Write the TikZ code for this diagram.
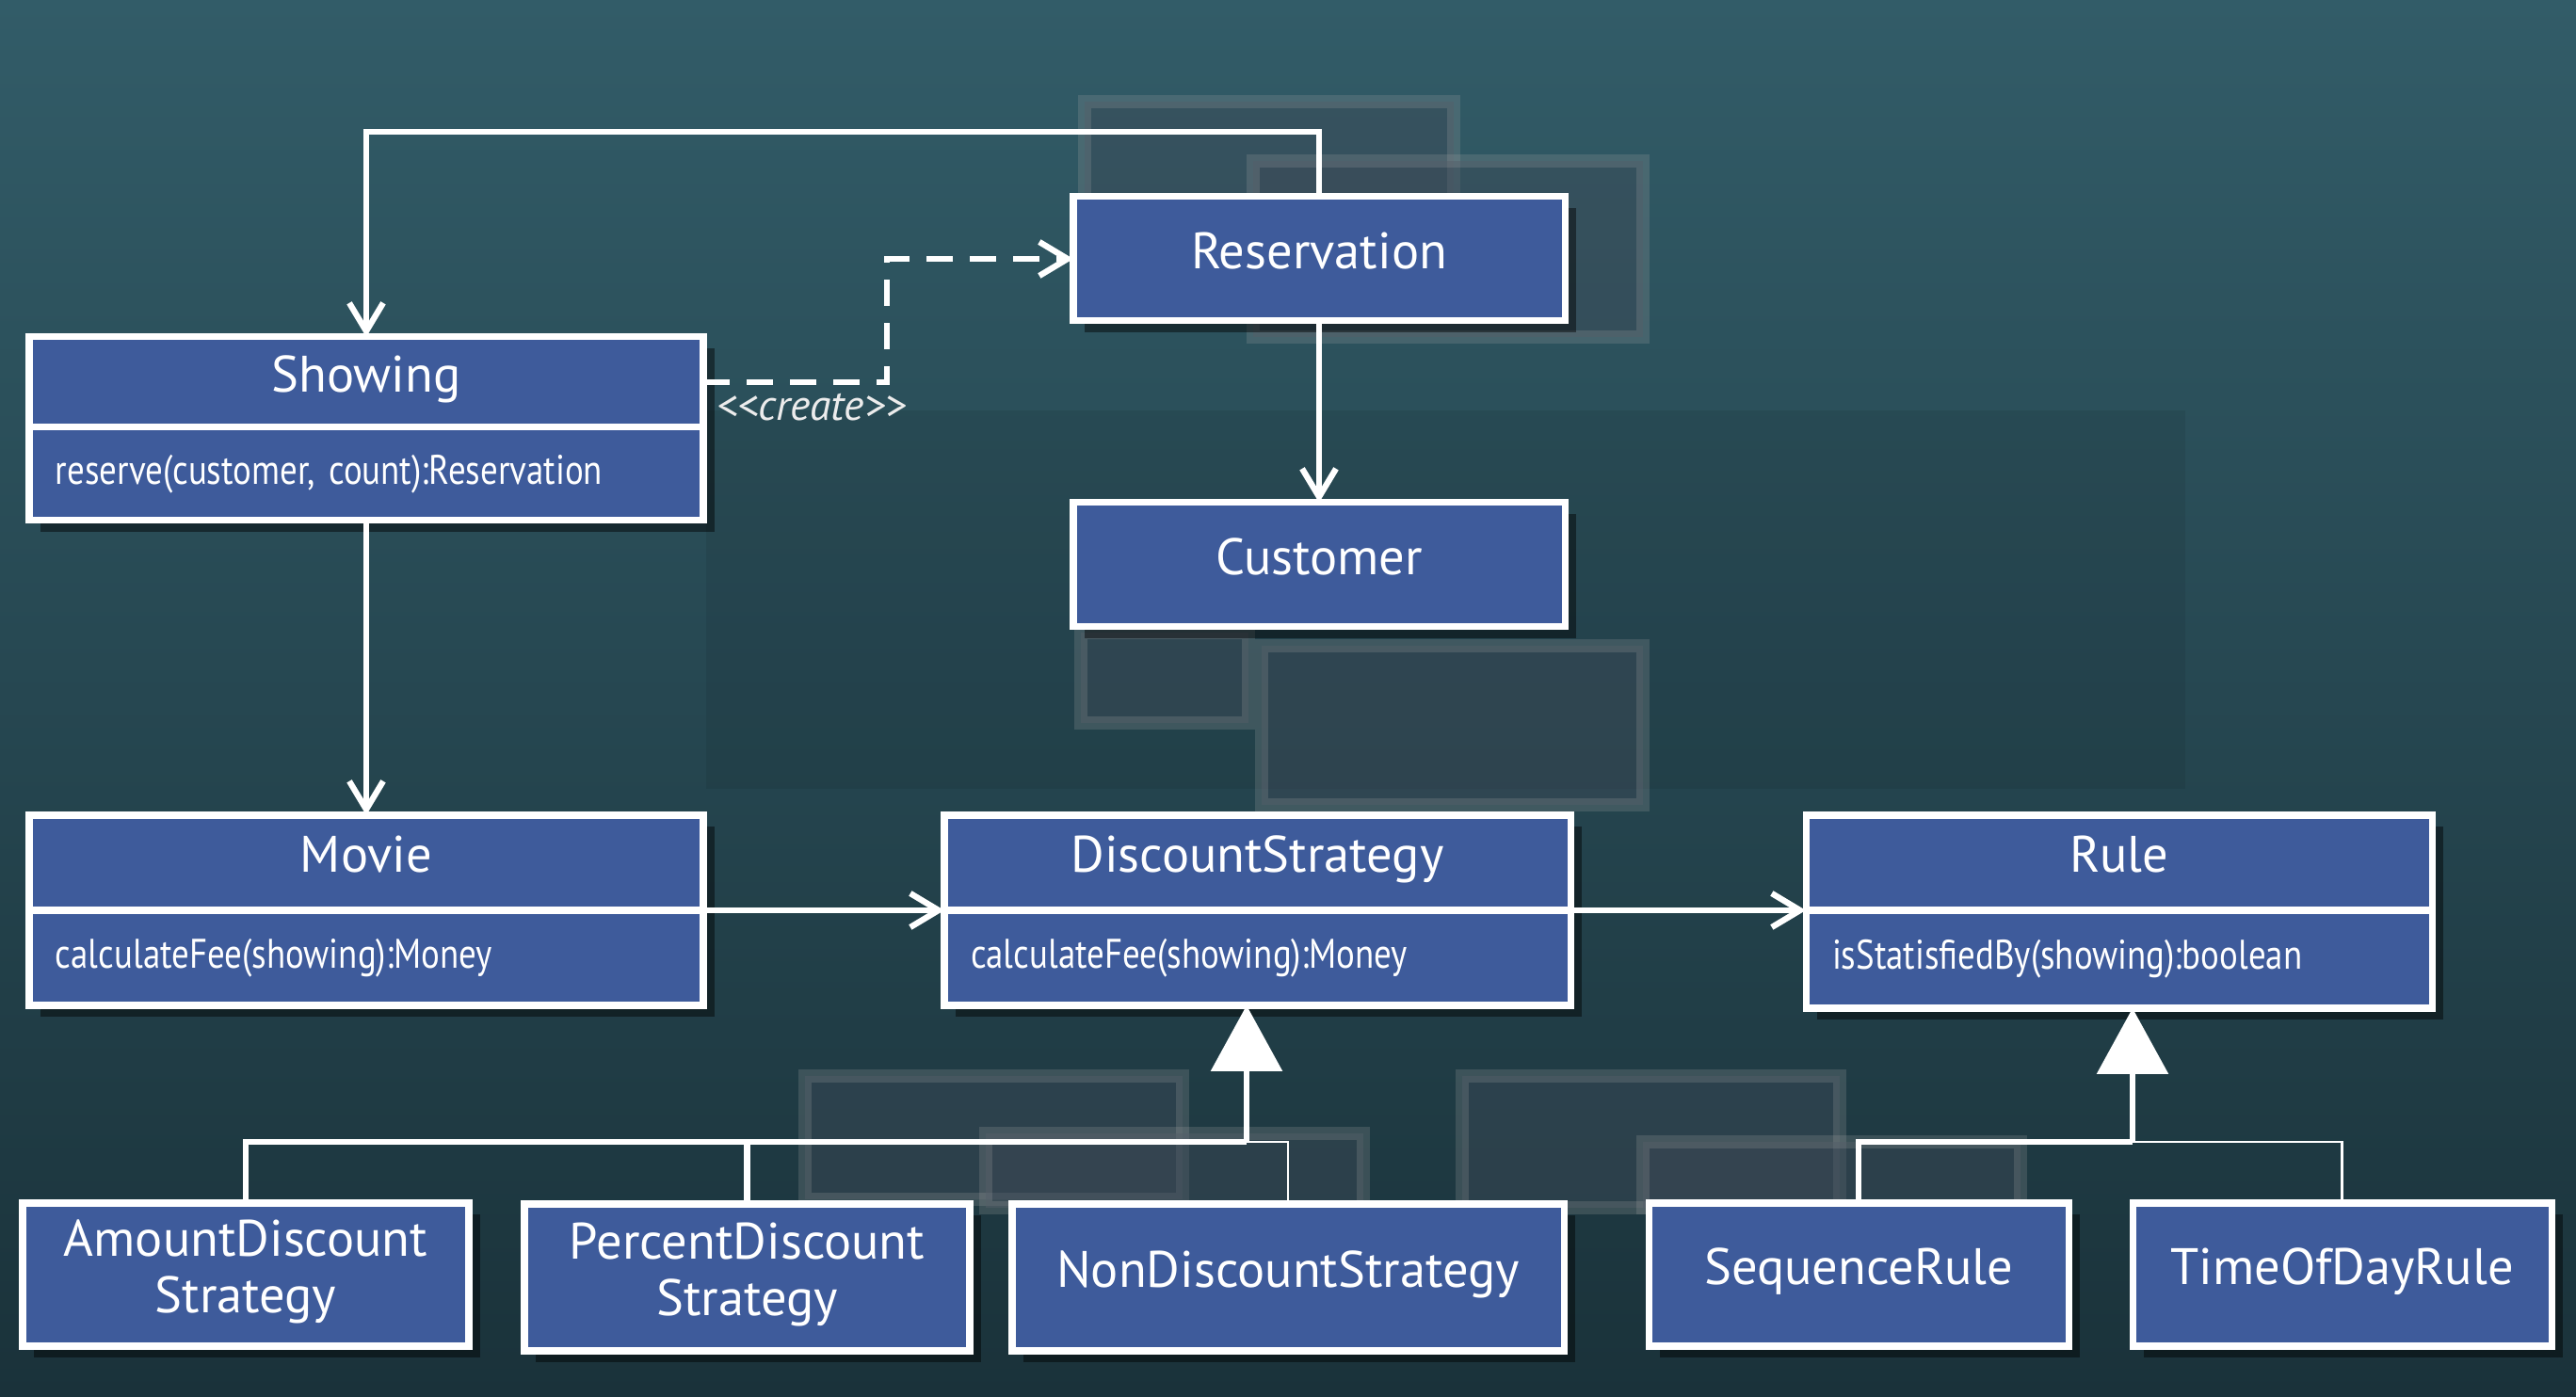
\documentclass[tikz,border=0pt]{standalone}
\usepackage{fontspec}
\setmainfont{PT Sans}
\newfontfamily\methfont[FakeStretch=0.84]{PT Sans}
\usetikzlibrary{arrows.meta, positioning, shadows}

\definecolor{umlblue}{RGB}{62,91,155}
\definecolor{bgtop}{RGB}{50,92,104}
\definecolor{bgbot}{RGB}{26,50,58}
\definecolor{ghost}{RGB}{62,74,88}

\begin{document}
\begin{tikzpicture}[
  cls/.style={draw=white, line width=2pt, fill=umlblue, text=white,
              outer sep=0pt, inner sep=0pt, align=center, text depth=0.18cm,
              font=\fontsize{15.5}{17}\selectfont,
              drop shadow={shadow xshift=1.2mm, shadow yshift=-1.2mm,
                           opacity=0.45, fill=black}},
  meth/.style={cls, inner xsep=0.28cm, align=left, text depth=,
               font=\methfont\fontsize{12.5}{13}\selectfont},
  assoc/.style={draw=white, line width=1.8pt,
                -{Straight Barb[length=0.3cm, width=0.36cm]}},
  dep/.style={assoc, dash pattern=on 0.28cm off 0.18cm},
  inh/.style={draw=white, line width=1.8pt,
              -{Triangle[length=0.7cm, width=0.75cm, fill=white]}},
  bus/.style={draw=white, line width=1.8pt},
  thinbus/.style={draw=white, line width=0.6pt},
  ghostbox/.style={fill=ghost, fill opacity=0.45, draw=gray!70,
                   draw opacity=0.22, line width=4pt},
  lbl/.style={text=white!85!gray, font=\itshape\fontsize{13}{14}\selectfont,
              inner sep=1pt}
]

% backdrop
\shade[top color=bgtop, bottom color=bgbot] (0,0) rectangle (27.36,14.84);
\useasboundingbox (0,0) rectangle (27.36,14.84);
\fill[black, opacity=0.07] (7.50,10.48) rectangle (23.21,6.46);
\draw[ghostbox] (11.52,13.76) rectangle (15.44,11.52);
\draw[ghostbox] (13.31,13.13) rectangle (17.45,11.26);
\draw[ghostbox] (11.48,8.12) rectangle (13.26,7.16);
\draw[ghostbox] (13.40,7.98) rectangle (17.45,6.29);
\draw[ghostbox] (8.55,3.41) rectangle (12.56,2.10);
\draw[ghostbox] (10.47,2.80) rectangle (14.48,2.01);
\draw[ghostbox] (15.53,3.41) rectangle (19.54,2.01);
\draw[ghostbox] (17.45,2.71) rectangle (21.46,2.01);

% presentation classes
\node[cls, minimum width=5.22cm, minimum height=1.32cm] (reservation)
  at (14.01, 12.09) {Reservation};
\node[cls, minimum width=5.22cm, minimum height=1.32cm] (customer)
  at (14.01, 8.84) {Customer};

\node[cls, minimum width=7.16cm, minimum height=0.96cm] (showing)
  at (3.89, 10.78) {Showing};
\node[meth, text width=6.60cm, minimum height=0.99cm, below=0pt of showing]
  (showingm) {reserve(customer, count):Reservation};

% domain classes
\node[cls, minimum width=7.16cm, minimum height=1.01cm] (movie)
  at (3.89, 5.675) {Movie};
\node[meth, text width=6.60cm, minimum height=1.01cm, below=0pt of movie]
  (moviem) {calculateFee(showing):Money};

\node[cls, minimum width=6.65cm, minimum height=1.01cm] (disc)
  at (13.355, 5.675) {DiscountStrategy};
\node[meth, text width=6.09cm, minimum height=1.01cm, below=0pt of disc]
  (discm) {calculateFee(showing):Money};

\node[cls, minimum width=6.65cm, minimum height=1.01cm] (rule)
  at (22.505, 5.675) {Rule};
\node[meth, text width=6.09cm, minimum height=1.04cm, below=0pt of rule]
  (rulem) {isStatisfiedBy(showing):boolean};

% subclasses
\node[cls, minimum width=4.74cm, minimum height=1.52cm] (amount)
  at (2.61, 1.30) {AmountDiscount\\Strategy};
\node[cls, minimum width=4.73cm, minimum height=1.56cm] (percent)
  at (7.935, 1.27) {PercentDiscount\\Strategy};
\node[cls, minimum width=5.86cm, minimum height=1.56cm] (nondisc)
  at (13.68, 1.27) {NonDiscountStrategy};
\node[cls, minimum width=4.46cm, minimum height=1.52cm] (sequence)
  at (19.74, 1.30) {SequenceRule};
\node[cls, minimum width=4.45cm, minimum height=1.52cm] (timeofday)
  at (24.875, 1.30) {TimeOfDayRule};

% associations
\draw[assoc] (reservation.north) -- ++(0,0.69) -| (showing.north);
\draw[dep] (showing.east) -- ++(1.95,0) |- (reservation.west);
\node[lbl, anchor=north west] (create)
  at ([xshift=0.1cm, yshift=-0.08cm]showing.east) {{<}{<}create{>}{>}};
\draw[assoc] (reservation.south) -- (customer.north);
\draw[assoc] (showingm.south) -- (movie.north);
\draw[assoc] (movie.south east) -- (disc.south west);
\draw[assoc] (disc.south east) -- (rule.south west);

% generalizations
\coordinate (dbus) at (13.24, 2.71);
\coordinate (rbus) at (22.65, 2.71);
\draw[bus] (amount.north) |- (dbus);
\draw[bus] (percent.north) -- (percent.north |- dbus);
\draw[thinbus] (dbus) -| (nondisc.north);
\draw[inh] (dbus) -- (dbus |- discm.south);

\draw[bus] (sequence.north) |- (rbus);
\draw[thinbus] (rbus) -| (timeofday.north);
\draw[inh] (rbus) -- (rbus |- rulem.south);

\end{tikzpicture}
\end{document}
